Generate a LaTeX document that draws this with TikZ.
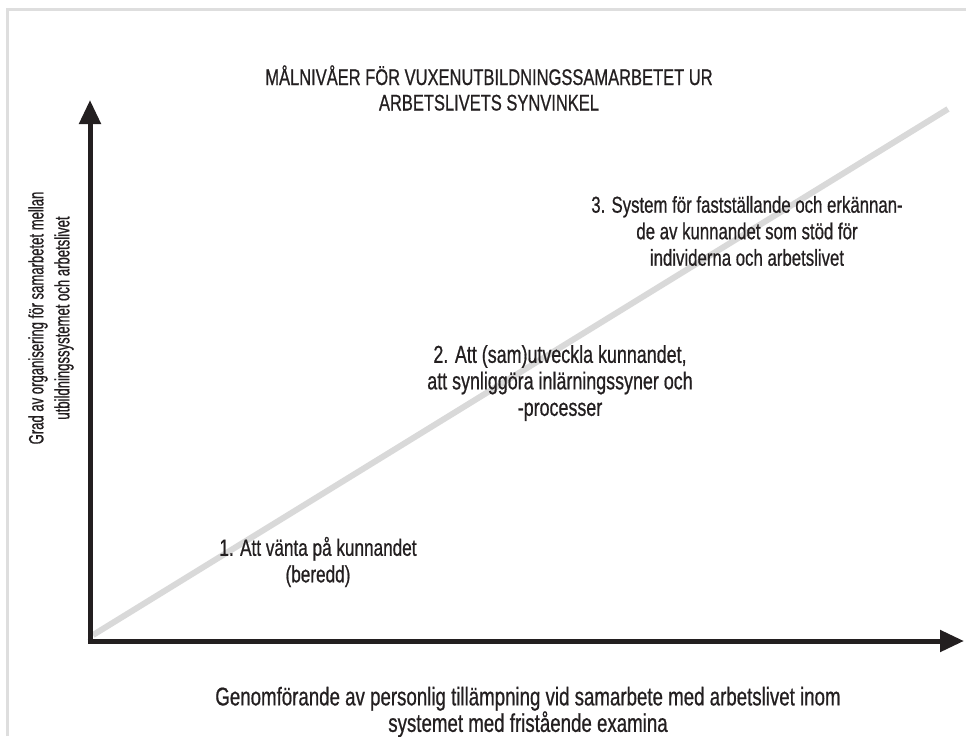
\documentclass[tikz,border=0pt]{standalone}
\usepackage{fontspec}
\setmainfont{Liberation Sans}[FakeStretch=0.73,FakeBold=0.7]
\newfontfamily\narrowfont{Liberation Sans}[FakeStretch=0.63,FakeBold=0.7]
\usetikzlibrary{arrows.meta}
\definecolor{ink}{HTML}{231F20}
\definecolor{frame}{HTML}{DEDEDE}
\definecolor{diag}{HTML}{D9D9D9}
\tikzset{
  axisline/.style={draw=ink, line width=5pt, -{Triangle[length=24pt,width=21pt]}},
  txt/.style={align=center, text=ink, inner sep=0pt, font=\fontsize{#1}{26.5}\selectfont},
  txt/.default=24.5,
  ttl/.style={align=center, text=ink, inner sep=0pt, font=\fontsize{22.6}{25.5}\selectfont},
  ylab/.style={align=center, text=ink, inner sep=0pt, font=\narrowfont\fontsize{20.8}{26}\selectfont, rotate=90},
}
\begin{document}
\begin{tikzpicture}[x=1pt,y=-1pt]
\useasboundingbox (0,0) rectangle (966,736);
% frame
\draw[frame, line width=3pt] (7.5,736) -- (7.5,9.5) -- (966,9.5);
% axes
\coordinate (o) at (90,641);
\coordinate (ytip) at (90,100);
\coordinate (xtip) at (964,641);
\coordinate (dstart) at (93,635);
\coordinate (dend) at (948,109);
\draw[diag, line width=6pt] (dstart) -- (dend);
\draw[axisline] ([yshift=2.5pt]o) -- (ytip);
\draw[axisline] ([xshift=-2.5pt]o) -- (xtip);
% title
\node[ttl] (title) at (489,88) {MÅLNIVÅER FÖR VUXENUTBILDNINGSSAMARBETET UR\\ARBETSLIVETS SYNVINKEL};
% labels
\node[txt=23] (l3) at (747,231) {3. System för fastställande och erkännan-\\de av kunnandet som stöd för\\individerna och arbetslivet};
\node[txt=24.5] (l2) at (560,383) {2. Att (sam)utveckla kunnandet,\\att synliggöra inlärningssyner och\\-processer};
\node[txt=23.5] (l1) at (318,562) {1. Att vänta på kunnandet\\(beredd)};
\node[txt=25.6] (xl) at (528,712) {Genomförande av personlig tillämpning vid samarbete med arbetslivet inom\\systemet med fristående examina};
\node[ylab] (yl) at (51,318) {Grad av organisering för samarbetet mellan\\utbildningssystemet och arbetslivet};
\end{tikzpicture}
\end{document}
